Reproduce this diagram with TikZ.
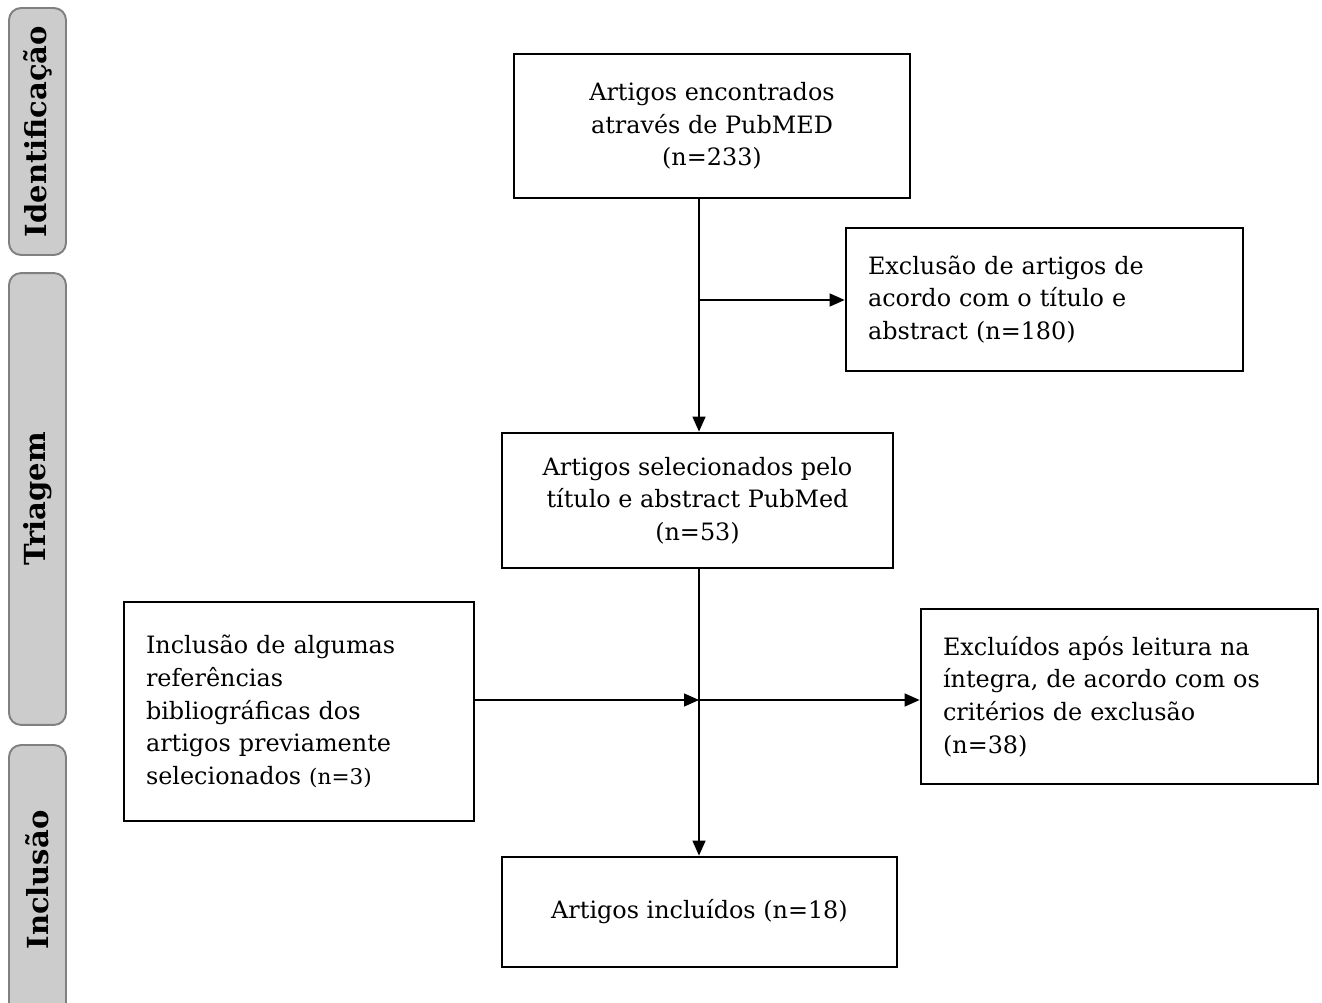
\documentclass[tikz,border=0pt]{standalone}
\usepackage{fontspec}
\setmainfont{DejaVu Serif}
\usetikzlibrary{arrows.meta}

\tikzset{
    box/.style={draw, line width=1.6pt, inner xsep=0.44cm, font=\fontsize{13.6}{18.6}\selectfont},
    midbox/.style={box, align=center},
    sidebox/.style={box, align=left},
    phase/.style={draw=gray, fill=gray!40, line width=1.1pt, rounded corners=0.24cm,
        rotate=90, minimum height=1.14cm, font=\fontsize{16.5}{20}\selectfont\bfseries},
    flow/.style={line width=0.75pt, -{Triangle[length=0.3cm, width=0.26cm]}}
}

\begin{document}
\begin{tikzpicture}[x=0.02cm, y=-0.02cm]

    % Fix the size of the picture
    \useasboundingbox (0,0) rectangle (1322,1003);

    % Phase bars on the left side
    \node[phase, minimum width=4.94cm] (ident) at (37.5,131.5) {Identificação};
    \node[phase, minimum width=9.04cm] (triag) at (37.5,499) {Triagem};
    \node[phase, minimum width=5.4cm] (incl) at (37.5,880) {Inclusão};

    % Main column of boxes
    \node[midbox, minimum width=7.92cm, minimum height=2.88cm] (found) at (712,126)
        {Artigos encontrados\\através de PubMED\\(n=233)};
    \node[midbox, minimum width=7.82cm, minimum height=2.7cm] (selected) at (697.5,500.5)
        {Artigos selecionados pelo\\título e abstract PubMed\\(n=53)};
    \node[midbox, minimum width=7.9cm, minimum height=2.2cm] (included) at (699.5,912)
        {Artigos incluídos (n=18)};

    % Side boxes
    \node[sidebox, minimum width=7.94cm, minimum height=2.86cm, text width=7.06cm] (excl1) at (1044.5,299.5)
        {Exclusão de artigos de\\acordo com o título e\\abstract (n=180)};
    \node[sidebox, minimum width=7.0cm, minimum height=4.38cm, text width=6.12cm] (extra) at (299,711.5)
        {Inclusão de algumas\\referências\\bibliográficas dos\\artigos previamente\\selecionados {\fontsize{12.3}{18.6}\selectfont(n=3)}};
    \node[sidebox, minimum width=7.94cm, minimum height=3.5cm, text width=7.06cm] (excl2) at (1119.5,696.5)
        {Excluídos após leitura na\\íntegra, de acordo com os\\critérios de exclusão\\(n=38)};

    % Junction points on the vertical lines
    \coordinate (j1) at (699,300);
    \coordinate (j2) at (699,700);

    % Connectors
    \draw[flow] (found.south -| j1) -- (selected.north -| j1);
    \draw[flow] (j1) -- (excl1.west |- j1);
    \draw[flow] (selected.south -| j2) -- (included.north -| j2);
    \draw[flow] (extra.east |- j2) -- (j2);
    \draw[flow] (j2) -- (excl2.west |- j2);

\end{tikzpicture}
\end{document}
